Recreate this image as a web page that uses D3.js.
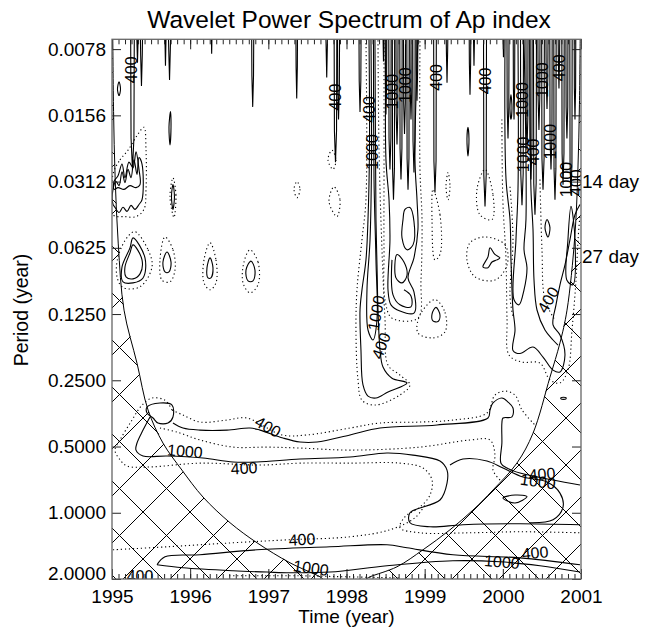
<!DOCTYPE html>
<html>
<head>
<meta charset="utf-8">
<script src="https://cdn.jsdelivr.net/npm/d3@7"></script>
<style>
body { margin: 0; background: #fff; }
svg text { font-family: "Liberation Sans", Arial, Helvetica, sans-serif; }
</style>
</head>
<body>
<svg id="chart" width="653" height="633"></svg>
<script>
// axes
const yearTicks = [1995, 1996, 1997, 1998, 1999, 2000, 2001];
const periodTicks = [0.0078125, 0.015625, 0.03125, 0.0625, 0.125, 0.25, 0.5, 1, 2];
const periodLabels = ['0.0078', '0.0156', '0.0312', '0.0625', '0.1250', '0.2500', '0.5000', '1.0000', '2.0000'];
const yDomain = [0.00705, 2.0];
const dayLabels = ['14 day', '27 day'];
const dayPeriods = [0.0335, 0.0735];

// cone of influence, [year, period]
const coiLeft = [[1995.01,0.00705],[1995.02,0.015],[1995.04,0.03],[1995.08,0.06],[1995.154,0.12],[1995.32,0.209],
  [1995.461,0.341],[1995.652,0.482],[1995.895,0.64],[1996.164,0.848],[1996.51,1.11],[1996.855,1.369],
  [1997.277,1.688],[1997.661,1.955],[1997.70,2.0]];
const coiRight = [[2000.99,0.00705],[2000.98,0.014],[2000.96,0.028],[2000.92,0.056],[2000.821,0.12],[2000.731,0.169],
  [2000.603,0.242],[2000.386,0.435],[2000.181,0.594],[1999.874,0.788],[1999.618,0.972],[1999.324,1.195],
  [1998.979,1.473],[1998.646,1.76],[1998.3,1.955],[1998.25,2.0]];

// thin spikes hanging from the top: [year, tip period, half width in years]
const spikes = [
  [1995.262,0.0275,0.023],[1995.326,0.0090,0.013],[1995.377,0.0115,0.013],[1995.684,0.0093,0.010],
  [1995.736,0.0108,0.013],[1996.275,0.0082,0.009],[1996.80,0.0143,0.013],[1997.363,0.0131,0.010],
  [1997.747,0.0105,0.010],[1997.859,0.0255,0.017],[1997.898,0.0163,0.013],[1998.173,0.0151,0.013],
  [1998.473,0.0089,0.009],[1998.505,0.0155,0.010],[1998.556,0.0275,0.015],[1998.601,0.0378,0.015],
  [1998.646,0.0212,0.013],[1998.697,0.0306,0.015],[1998.742,0.0190,0.013],[1998.787,0.0340,0.015],
  [1998.825,0.0163,0.013],[1998.863,0.0284,0.015],[1998.902,0.0134,0.010],[1999.132,0.0350,0.017],
  [1999.286,0.0111,0.010],[1999.58,0.0126,0.010],[1999.631,0.0093,0.009],[1999.772,0.0405,0.019],
  [2000.008,0.0085,0.009],[2000.066,0.0199,0.013],[2000.143,0.0163,0.010],[2000.245,0.0400,0.019],
  [2000.309,0.0224,0.013],[2000.36,0.0306,0.015],[2000.411,0.0442,0.019],[2000.462,0.0182,0.013],
  [2000.514,0.0340,0.017],[2000.565,0.0146,0.013],[2000.616,0.0275,0.015],[2000.667,0.0378,0.015],
  [2000.718,0.0118,0.010],[2000.77,0.0323,0.015],[2000.82,0.0199,0.013],[2000.872,0.0359,0.015],
  [2000.923,0.0163,0.010]
];

// closed solid contours
const solidClosed = [
  [[1995.09,0.0110],[1995.109,0.0119],[1995.09,0.0127],[1995.07,0.0119]],
  [[1995.013,0.0339],[1995.051,0.0312],[1995.09,0.0326],[1995.128,0.0282],[1995.166,0.0316],[1995.205,0.0275],
   [1995.243,0.030],[1995.281,0.0249],[1995.32,0.029],[1995.345,0.0243],[1995.384,0.026],[1995.384,0.0378],
   [1995.345,0.0397],[1995.294,0.0418],[1995.243,0.0401],[1995.192,0.0427],[1995.141,0.0409],[1995.09,0.0432],
   [1995.038,0.0409],[1995.013,0.0397]],
  [[1995.026,0.0312],[1995.077,0.0294],[1995.128,0.026],[1995.166,0.030],[1995.217,0.0255],[1995.269,0.027],
   [1995.307,0.0229],[1995.345,0.0275],[1995.358,0.0323],[1995.307,0.0333],[1995.23,0.0326],[1995.154,0.0339],
   [1995.077,0.0333],[1995.026,0.0339]],
  [[1995.269,0.0563],[1995.422,0.0694],[1995.397,0.0857],[1995.269,0.0902],[1995.141,0.0892],[1995.128,0.0763],[1995.23,0.0625]],
  [[1995.269,0.0606],[1995.384,0.0709],[1995.358,0.0821],[1995.269,0.0865],[1995.179,0.0847],[1995.166,0.0763],[1995.23,0.0659]],
  [[1995.704,0.0653],[1995.755,0.0725],[1995.729,0.0804],[1995.678,0.0804],[1995.652,0.0725]],
  [[1996.254,0.0694],[1996.292,0.0771],[1996.266,0.0856],[1996.228,0.0856],[1996.215,0.0771]],
  [[1996.778,0.0718],[1996.829,0.0789],[1996.804,0.0884],[1996.74,0.0884],[1996.714,0.0789]],
  [[1995.78,0.0322],[1995.799,0.0366],[1995.78,0.0418],[1995.761,0.0366]],
  [[1995.748,0.0150],[1995.755,0.0177],[1995.742,0.0213],[1995.729,0.0177]],
  [[1999.145,0.1166],[1999.196,0.1263],[1999.171,0.1352],[1999.106,0.1342],[1999.094,0.125]],
  [[1999.836,0.0625],[1999.899,0.067],[1999.963,0.0694],[1999.925,0.0709],[1999.861,0.0725],[1999.81,0.077],[1999.746,0.0763],[1999.81,0.0687]],
  [[1998.748,0.0418],[1998.812,0.041],[1998.863,0.0474],[1998.851,0.0606],[1998.774,0.0638],[1998.71,0.0563],[1998.723,0.0465]],
  [[1998.646,0.067],[1998.735,0.0725],[1998.774,0.0833],[1998.71,0.0902],[1998.633,0.0856]],
  [[2000.565,0.0465],[2000.603,0.0506],[2000.578,0.0558],[2000.539,0.0506]],
  [[2000.872,0.0405],[2000.923,0.0574],[2000.897,0.092],[2000.82,0.0877],[2000.833,0.0574]],
  [[1995.448,0.3306],[1995.614,0.317],[1995.768,0.3238],[1995.78,0.367],[1995.716,0.391],[1995.588,0.391],[1995.525,0.371],[1995.448,0.352]],
  [[2000.002,0.857],[2000.156,0.831],[2000.309,0.844],[2000.156,0.903]],
  [[2000.744,0.300],[2000.808,0.300],[2000.808,0.304],[2000.744,0.304]],
  [[2000.104,0.0126],[2000.117,0.0145],[2000.104,0.0163],[2000.091,0.0145]],
  [[1999.554,0.0177],[1999.567,0.0200],[1999.554,0.0239],[1999.541,0.0200]]
];

// open solid contours (ending at the frame)
const solidOpen = [
  [[1998.288,0.00705],[1998.294,0.0223],[1998.275,0.0465],[1998.249,0.0709],[1998.198,0.097],[1998.173,0.1199],
   [1998.185,0.182],[1998.211,0.2625],[1998.275,0.295],[1998.377,0.301],[1998.531,0.2825],[1998.774,0.257],
   [1998.582,0.2447],[1998.467,0.2177],[1998.429,0.182],[1998.403,0.1199],[1998.39,0.0747],[1998.377,0.0465],
   [1998.371,0.0223],[1998.364,0.00705]],
  [[1998.313,0.00705],[1998.32,0.0249],[1998.301,0.0574],[1998.262,0.097],[1998.275,0.1477],[1998.339,0.164],
   [1998.39,0.1331],[1998.377,0.0709],[1998.352,0.0306],[1998.345,0.00705]],
  [[1998.505,0.00705],[1998.505,0.0249],[1998.544,0.0378],[1998.556,0.0574],[1998.531,0.097],[1998.569,0.1135],
   [1998.684,0.1211],[1998.863,0.1237],[1998.863,0.0991],[1998.787,0.0856],[1998.863,0.0694],[1998.914,0.0516],
   [1998.902,0.0378],[1998.876,0.0249],[1998.914,0.00705]],
  [[1998.582,0.0709],[1998.595,0.1022],[1998.684,0.1135],[1998.825,0.116],[1998.825,0.1034],[1998.735,0.097]],
  [[2000.028,0.00705],[2000.041,0.0306],[2000.092,0.0465],[2000.104,0.0709],[2000.117,0.097],[2000.13,0.1198],
   [2000.156,0.1477],[2000.13,0.183],[2000.219,0.189],[2000.386,0.1766],[2000.514,0.196],[2000.642,0.2247],
   [2000.731,0.229],[2000.795,0.192],[2000.731,0.1557],[2000.642,0.140],[2000.68,0.1135],[2000.731,0.092],
   [2000.795,0.0748],[2000.859,0.0574],[2000.923,0.0442],[2000.987,0.0397]],
  [[2000.194,0.00705],[2000.194,0.0339],[2000.168,0.0574],[2000.143,0.1077],[2000.207,0.1135],[2000.271,0.097],
   [2000.309,0.077],[2000.271,0.0638],[2000.296,0.0465],[2000.271,0.00705]],
  [[2000.347,0.00705],[2000.36,0.0339],[2000.386,0.0516],[2000.399,0.0877],[2000.437,0.1198],[2000.539,0.1477],
   [2000.642,0.164],[2000.706,0.173]],
  [[1995.486,0.367],[1995.397,0.421],[1995.32,0.482],[1995.307,0.519],[1995.397,0.552],[1995.704,0.552],
   [1996.164,0.564],[1996.548,0.588],[1996.855,0.588],[1997.405,0.570],[1998.045,0.558],[1998.518,0.535],
   [1998.851,0.547],[1999.196,0.582],[1999.286,0.64],[1999.286,0.733],[1999.196,0.875],[1998.812,1.0],
   [1998.812,1.11],[1999.068,1.158],[1999.49,1.134],[2000.219,1.122],[2000.987,1.134]],
  [[1999.324,0.607],[1999.49,0.570],[1999.797,0.582],[2000.002,0.626],[2000.258,0.688],[2000.565,0.725],
   [2000.731,0.814],[2000.77,0.942],[2000.642,1.076],[2000.347,1.11]],
  [[1995.78,0.391],[1995.908,0.412],[1996.126,0.421],[1996.471,0.421],[1996.765,0.412],[1996.893,0.421],
   [1997.188,0.4575],[1997.405,0.477],[1997.623,0.477],[1998.045,0.443],[1998.428,0.412],[1999.158,0.399],
   [1999.81,0.371],[1999.836,0.341],[1999.874,0.317],[1999.988,0.301],[2000.066,0.314],[2000.13,0.334],
   [2000.117,0.367],[2000.002,0.371],[1999.988,0.391],[1999.988,0.482],[1999.976,0.595],[2000.053,0.626],
   [2000.219,0.66],[2000.642,0.710],[2000.987,0.748]],
  [[1995.576,1.724],[1995.678,1.586],[1996.126,1.552],[1996.855,1.473],[1997.789,1.428],[1998.518,1.398],
   [1998.774,1.443],[1999.362,1.552],[2000.219,1.603],[2000.987,1.724]],
  [[1995.576,1.724],[1995.908,1.779],[1996.548,1.835],[1996.983,1.86],[1997.277,1.874],[1997.789,1.86],
   [1998.518,1.741],[1999.362,1.653],[1999.963,1.670],[2000.475,1.741],[2000.987,1.86]]
];

// dotted contours
const dottedClosed = [
  [[1995.013,0.029],[1995.102,0.0249],[1995.205,0.0225],[1995.333,0.019],[1995.409,0.0177],[1995.435,0.0225],
   [1995.435,0.0339],[1995.409,0.0418],[1995.307,0.0451],[1995.166,0.0451],[1995.013,0.0442]],
  [[1995.294,0.0528],[1995.461,0.0638],[1995.512,0.0763],[1995.358,0.094],[1995.141,0.0947],[1995.064,0.0847],[1995.077,0.0687],[1995.205,0.0554]],
  [[1995.678,0.0558],[1995.78,0.0638],[1995.806,0.0789],[1995.742,0.0892],[1995.64,0.0878],[1995.614,0.0709]],
  [[1996.254,0.0593],[1996.33,0.0709],[1996.33,0.0902],[1996.254,0.097],[1996.177,0.0902],[1996.177,0.0709]],
  [[1996.765,0.0638],[1996.868,0.0725],[1996.868,0.092],[1996.765,0.1001],[1996.676,0.0902],[1996.689,0.0725]],
  [[1995.78,0.030],[1995.818,0.0359],[1995.793,0.0455],[1995.742,0.0366]],
  [[1997.814,0.0225],[1997.865,0.0249],[1997.827,0.0275],[1997.763,0.0249]],
  [[1997.84,0.033],[1997.917,0.0378],[1997.878,0.0451],[1997.776,0.0385]],
  [[1997.367,0.03125],[1997.405,0.0339],[1997.367,0.037],[1997.328,0.0339]],
  [[1999.132,0.1075],[1999.26,0.1229],[1999.26,0.1506],[1999.106,0.1604],[1998.914,0.1522],[1998.94,0.1263]],
  [[1999.772,0.0558],[2000.028,0.0606],[2000.054,0.0748],[1999.899,0.0876],[1999.644,0.0847],[1999.541,0.0709],[1999.58,0.0593]],
  [[1999.106,0.0339],[1999.196,0.0442],[1999.196,0.067],[1999.132,0.0709],[1999.094,0.0465]],
  [[1999.299,0.0284],[1999.324,0.033],[1999.299,0.0378],[1999.273,0.033]],
  [[1999.772,0.0275],[1999.874,0.0359],[1999.861,0.0465],[1999.707,0.0442],[1999.669,0.0339]]
];
const dottedOpen = [
  [[1998.249,0.00705],[1998.249,0.0378],[1998.198,0.0574],[1998.134,0.097],[1998.121,0.1477],[1998.147,0.249],
   [1998.198,0.308],[1998.364,0.324],[1998.684,0.2915],[1998.812,0.2625],[1998.684,0.2367],[1998.531,0.2132],
   [1998.493,0.1331],[1998.454,0.0638],[1998.416,0.0223],[1998.403,0.00705]],
  [[1998.48,0.00705],[1998.48,0.0275],[1998.48,0.0638],[1998.493,0.1077],[1998.582,0.1304],[1998.914,0.1304],
   [1998.953,0.0877],[1998.966,0.0465],[1998.94,0.0275],[1998.94,0.00705]],
  [[1999.988,0.0163],[2000.0,0.0378],[2000.041,0.0709],[2000.054,0.1331],[2000.079,0.192],[2000.245,0.2066],
   [2000.475,0.2087],[2000.603,0.249],[2000.731,0.257],[2000.833,0.2247],[2000.885,0.1477],[2000.936,0.0877],
   [2000.962,0.0574],[2000.987,0.0442]],
  [[2000.092,0.033],[2000.13,0.0574],[2000.092,0.1044],[2000.13,0.129]],
  [[2000.475,0.0306],[2000.501,0.0638],[2000.539,0.1077],[2000.667,0.1331]],
  [[1995.768,0.341],[1995.678,0.308],[1995.512,0.301],[1995.384,0.324],[1995.256,0.379],[1995.102,0.467],
   [1995.038,0.519],[1995.102,0.574],[1995.192,0.613],[1995.486,0.619],[1996.126,0.595],[1996.893,0.607],
   [1997.405,0.595],[1998.045,0.595],[1998.684,0.595],[1998.979,0.626],[1999.094,0.71],[1999.068,0.831],
   [1998.94,0.942],[1998.748,1.043],[1998.684,1.17],[1998.94,1.233],[1999.58,1.233],[2000.219,1.22],[2000.987,1.233]],
  [[1995.768,0.341],[1995.908,0.3595],[1996.126,0.387],[1996.471,0.379],[1996.727,0.371],[1997.175,0.443],
   [1997.495,0.443],[1998.045,0.412],[1998.428,0.391],[1998.94,0.387],[1999.362,0.379],[1999.797,0.352],
   [1999.899,0.292],[2000.028,0.28],[2000.156,0.292],[2000.245,0.341],[2000.411,0.399]],
  [[1995.614,0.412],[1995.832,0.43],[1996.126,0.467],[1996.548,0.503],[1996.983,0.503],[1997.405,0.508],
   [1998.045,0.519],[1998.94,0.503],[1999.58,0.467],[1999.836,0.467],[1999.899,0.547],[1999.874,0.64],[1999.963,0.71]],
  [[1995.013,1.473],[1995.704,1.428],[1996.548,1.369],[1997.252,1.327],[1998.045,1.286],[1998.556,1.195],
   [1998.876,1.054],[1999.004,0.92]],
  [[1996.5,1.934],[1997.4,1.934],[1998.0,1.955],[1998.7,1.978]]
];

// contour labels: [text, year, period]
const contourLabels = [
  ['400',1995.243,0.0097],['400',1997.853,0.0129],['400',1998.288,0.0147],['1000',1998.326,0.0229],
  ['1000',1998.582,0.0122],['1000',1998.748,0.0114],['400',1999.145,0.0105],['400',1999.772,0.0109],
  ['1000',2000.245,0.0133],['1000',2000.501,0.0108],['400',2000.718,0.0095],['1000',2000.258,0.0235],
  ['400',2000.386,0.0229],['1000',2000.603,0.0206],['1000',2000.808,0.0306],['400',2000.936,0.0316],
  ['400',2000.578,0.1077],['1000',1998.377,0.1237],['400',1998.441,0.174],['400',1996.996,0.406],
  ['1000',1995.934,0.524],['400',1996.689,0.626],['400',1997.43,1.32],['1000',1997.546,1.779],
  ['400',1995.358,1.934],['1000',1999.989,1.670],['400',2000.411,1.516],['400',2000.501,0.666],['1000',2000.45,0.72]
];
const labelAngles = [-90,-90,-90,-90,-90,-90,-90,-90,-90,-90,-90,-90,-90,-90,-90,-90,
  -60,-80,-70,30,5,-3,-3,8,0,5,-5,-5,8];

const W = 653, H = 633;
const pL = 112, pR = 581, pT = 39.3, pB = 579;
const font = '"Liberation Sans", Arial, Helvetica, sans-serif';

const svg = d3.select('#chart');
svg.append('rect').attr('width', W).attr('height', H).attr('fill', '#fff');

const x = d3.scaleLinear().domain([1995, 2001]).range([pL, pR]);
const y = d3.scaleLog().domain(yDomain).range([pT, pB]);

const defs = svg.append('defs');
defs.append('clipPath').attr('id', 'plot')
  .append('rect').attr('x', pL).attr('y', pT).attr('width', pR - pL).attr('height', pB - pT);

const lin = d3.line().x(d => x(d[0])).y(d => y(d[1]));
const coiRegion = lin([[1995, yDomain[0]], ...coiLeft, [1995, 2]]) + 'Z' +
  lin([[2001, yDomain[0]], ...coiRight, [2001, 2]]) + 'Z';
defs.append('clipPath').attr('id', 'coi').append('path').attr('d', coiRegion);

const smooth = d3.line().x(d => x(d[0])).y(d => y(d[1])).curve(d3.curveCatmullRom.alpha(0.5));
const smoothClosed = d3.line().x(d => x(d[0])).y(d => y(d[1])).curve(d3.curveCatmullRomClosed.alpha(0.5));

const plot = svg.append('g').attr('clip-path', 'url(#plot)');

// cross hatching outside the cone of influence
const hatch = plot.append('g').attr('clip-path', 'url(#coi)')
  .attr('stroke', '#000').attr('stroke-width', 1);
for (let c = 40 - 47 * 12; c < 500; c += 47) {
  hatch.append('line').attr('x1', pL).attr('y1', pL + c).attr('x2', pR).attr('y2', pR + c);
}
for (let c = 44; c < 1220; c += 47) {
  hatch.append('line').attr('x1', pL).attr('y1', c - pL).attr('x2', pR).attr('y2', c - pR);
}

// cone of influence
plot.selectAll('path.coi').data([coiLeft, coiRight]).enter().append('path')
  .attr('class', 'coi').attr('d', smooth)
  .attr('fill', 'none').attr('stroke', '#000').attr('stroke-width', 1);

// dotted contours
plot.selectAll('path.dc').data(dottedClosed).enter().append('path')
  .attr('class', 'dc').attr('d', smoothClosed)
  .attr('fill', 'none').attr('stroke', '#000').attr('stroke-width', 1.1).attr('stroke-dasharray', '1.2,2.8');
plot.selectAll('path.do').data(dottedOpen).enter().append('path')
  .attr('class', 'do').attr('d', smooth)
  .attr('fill', 'none').attr('stroke', '#000').attr('stroke-width', 1.1).attr('stroke-dasharray', '1.2,2.8');

// solid contours
plot.selectAll('path.sc').data(solidClosed).enter().append('path')
  .attr('class', 'sc').attr('d', smoothClosed)
  .attr('fill', 'none').attr('stroke', '#000').attr('stroke-width', 1.1);
plot.selectAll('path.so').data(solidOpen).enter().append('path')
  .attr('class', 'so').attr('d', smooth)
  .attr('fill', 'none').attr('stroke', '#000').attr('stroke-width', 1.1);

// spikes
const spikePts = s => [[s[0] - s[2], yDomain[0]], [s[0] - s[2] * 0.8, s[1] * 0.72], [s[0], s[1]],
  [s[0] + s[2] * 0.8, s[1] * 0.72], [s[0] + s[2], yDomain[0]]];
plot.selectAll('path.spike').data(spikes).enter().append('path')
  .attr('class', 'spike').attr('d', s => lin(spikePts(s)))
  .attr('fill', 'none').attr('stroke', '#000').attr('stroke-width', 1.1);

// contour labels
plot.selectAll('text.cl').data(contourLabels).enter().append('text')
  .attr('class', 'cl')
  .attr('transform', (d, i) => `translate(${x(d[1])},${y(d[2])}) rotate(${labelAngles[i]})`)
  .attr('text-anchor', 'middle').attr('dy', '0.36em')
  .attr('font-size', 16).attr('fill', '#000')
  .text(d => d[0]);

// axes
const months = d3.range(0, 73).map(i => 1995 + i / 12);
function styleAxis(g) {
  g.select('.domain').remove();
  g.selectAll('.tick line').attr('stroke', '#222');
  g.selectAll('text').attr('font-size', 19).attr('font-family', font).attr('fill', '#000');
}
svg.append('g').attr('transform', `translate(0,${pB})`)
  .call(d3.axisBottom(x).tickValues(yearTicks).tickSize(-10).tickPadding(11).tickFormat(d3.format('d')))
  .call(styleAxis);
svg.append('g').attr('transform', `translate(0,${pB})`)
  .call(d3.axisBottom(x).tickValues(months).tickSize(-5).tickFormat(''))
  .call(styleAxis);
svg.append('g').attr('transform', `translate(0,${pT})`)
  .call(d3.axisTop(x).tickValues(yearTicks).tickSize(-10).tickFormat(''))
  .call(styleAxis);
svg.append('g').attr('transform', `translate(0,${pT})`)
  .call(d3.axisTop(x).tickValues(months).tickSize(-5).tickFormat(''))
  .call(styleAxis);
const yl = svg.append('g').attr('transform', `translate(${pL},0)`)
  .call(d3.axisLeft(y).tickValues(periodTicks).tickSize(-9).tickPadding(6).tickFormat((d, i) => periodLabels[i]))
  .call(styleAxis);
yl.selectAll('.tick text').filter(d => d === 2).attr('dy', '0.05em');
svg.append('g').attr('transform', `translate(${pR},0)`)
  .call(d3.axisRight(y).tickValues(periodTicks).tickSize(-9).tickFormat(''))
  .call(styleAxis);

// frame
svg.append('rect').attr('x', pL).attr('y', pT).attr('width', pR - pL).attr('height', pB - pT)
  .attr('fill', 'none').attr('stroke', '#666').attr('stroke-width', 1.3);

// day markers on the right
svg.selectAll('text.day').data(dayLabels).enter().append('text')
  .attr('class', 'day').attr('x', pR + 1).attr('y', (d, i) => y(dayPeriods[i]))
  .attr('font-size', 19).attr('fill', '#000').text(d => d);

// titles
svg.append('text').attr('x', 349).attr('y', 28).attr('text-anchor', 'middle')
  .attr('font-size', 24.5).text('Wavelet Power Spectrum of Ap index');
svg.append('text').attr('x', 346.5).attr('y', 623).attr('text-anchor', 'middle')
  .attr('font-size', 19).text('Time (year)');
svg.append('text').attr('transform', 'translate(28,310) rotate(-90)').attr('text-anchor', 'middle')
  .attr('font-size', 19.5).text('Period (year)');
</script>
</body>
</html>
